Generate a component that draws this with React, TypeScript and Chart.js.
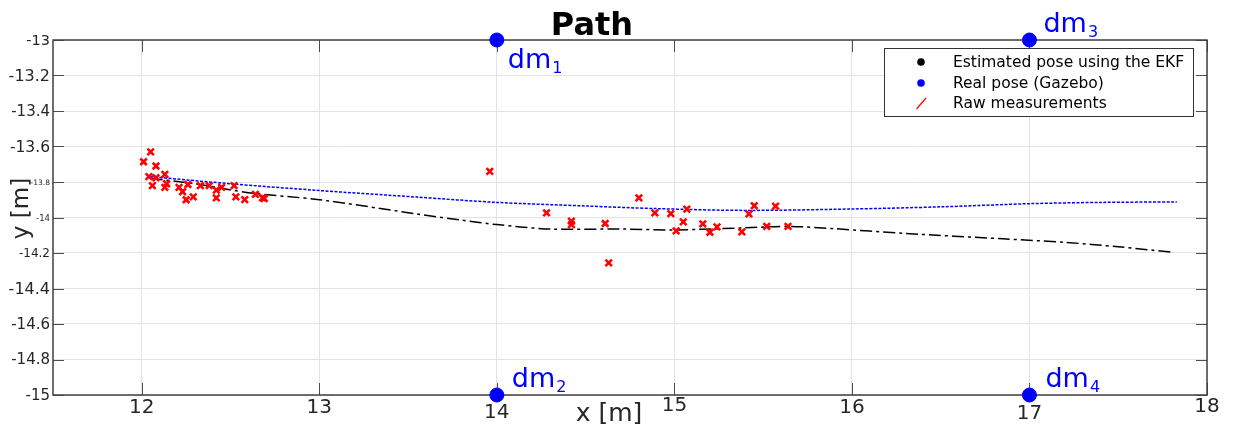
import React, { useEffect, useRef } from 'react';
import { Chart, registerables } from 'chart.js';

Chart.register(...registerables);

// ---------- text ----------
const TITLE = 'Path';
const X_LABEL = 'x [m]';
const Y_LABEL = 'y [m]';
const SERIES_LABELS = ['Estimated pose using the EKF', 'Real pose (Gazebo)', 'Raw measurements'];

// ---------- axes ----------
const X_MIN = 11.5;
const X_MAX = 18;
const X_STEP = 1;
const Y_MIN = -15;
const Y_MAX = -13;
const Y_STEP = 0.2;
const X_TICK_LABELS = ['12', '13', '14', '15', '16', '17', '18'];
const Y_TICK_LABELS = ['-15', '-14.8', '-14.6', '-14.4', '-14.2', '-14', '-13.8', '-13.6', '-13.4', '-13.2', '-13'];

// ---------- data ----------
const EKF_X = [12.05, 12.3, 12.6, 13.0, 13.55, 13.8, 14.0, 14.3, 14.7, 15.0, 15.4, 15.65, 15.9, 16.3, 16.85, 17.2, 17.5, 17.8];
const EKF_Y = [-13.78, -13.81, -13.86, -13.9, -13.98, -14.015, -14.04, -14.065, -14.065, -14.07, -14.058, -14.05, -14.063, -14.09, -14.12, -14.14, -14.165, -14.195];

const REAL_X = [12.05, 12.5, 13.0, 13.55, 14.0, 14.5, 14.9, 15.4, 16.0, 16.5, 17.0, 17.4, 17.83];
const REAL_Y = [-13.77, -13.81, -13.848, -13.885, -13.915, -13.935, -13.95, -13.96, -13.952, -13.94, -13.922, -13.915, -13.912];

const RAW_X = [12.01, 12.05, 12.08, 12.04, 12.08, 12.13, 12.06, 12.14, 12.13, 12.21, 12.23, 12.26, 12.25, 12.29, 12.33, 12.38, 12.42, 12.42, 12.45, 12.52, 12.53, 12.58, 12.64, 12.68, 12.69,
  13.96, 14.28, 14.42, 14.42, 14.61, 14.63, 14.8, 14.89, 14.98, 15.01, 15.05, 15.07, 15.16, 15.2, 15.24, 15.38, 15.42, 15.45, 15.52, 15.57, 15.64];
const RAW_Y = [-13.686, -13.63, -13.71, -13.77, -13.776, -13.757, -13.82, -13.81, -13.83, -13.83, -13.855, -13.814, -13.9, -13.884, -13.82, -13.82, -13.846, -13.889, -13.83, -13.82, -13.884, -13.899, -13.87, -13.889, -13.893,
  -13.74, -13.974, -14.02, -14.04, -14.034, -14.256, -13.889, -13.974, -13.978, -14.075, -14.025, -13.953, -14.036, -14.083, -14.053, -14.081, -13.98, -13.934, -14.05, -13.936, -14.05];

const DM_X = [14, 14, 17, 17];
const DM_Y = [-13, -15, -13, -15];
const DM_NAMES = ['dm', 'dm', 'dm', 'dm'];
const DM_SUBS = ['1', '2', '3', '4'];

// ---------- styles ----------
const FONT = '"DejaVu Sans", sans-serif';
const TEXT_COLOR = '#262626';
const BLACK = '#000000';
const BLUE = '#0000ff';
const RED = '#ff0000';
const DM_LABEL_OFFSETS = [[11, 28], [15, -8], [14, -8], [16, -8]];
const Y_TICK_SIZES: Record<string, number> = {
  '-15': 15, '-14.8': 15, '-14.6': 15, '-14.4': 16, '-14.2': 12, '-14': 8.5,
  '-13.8': 7.5, '-13.6': 15.5, '-13.4': 15, '-13.2': 16, '-13': 14.5,
};
const X_TICK_DROP: Record<string, number> = {
  '12': 12.5, '13': 12.5, '14': 18, '15': 11, '16': 12.5, '17': 18.5, '18': 12,
};

const labelFor = (labels: string[], v: number) => {
  const hit = labels.find((l) => Math.abs(parseFloat(l) - v) < 1e-6);
  return hit === undefined ? '' : hit;
};

const pts = (xs: number[], ys: number[]) => xs.map((x, i) => ({ x, y: ys[i] }));

const matlabPlugin = {
  id: 'matlabLook',
  beforeDatasetsDraw(chart: any) {
    const { ctx, chartArea: a, scales } = chart;
    const xs = scales.x;
    const ys = scales.y;
    ctx.save();
    ctx.strokeStyle = '#4d4d4d';
    ctx.lineWidth = 1;
    ctx.beginPath();
    xs.ticks.forEach((t: any) => {
      const px = Math.round(xs.getPixelForValue(t.value)) + 0.5;
      ctx.moveTo(px, a.bottom);
      ctx.lineTo(px, a.bottom - 12);
      ctx.moveTo(px, a.top);
      ctx.lineTo(px, a.top + 12);
    });
    ys.ticks.forEach((t: any) => {
      const py = Math.round(ys.getPixelForValue(t.value)) + 0.5;
      ctx.moveTo(a.left, py);
      ctx.lineTo(a.left + 11, py);
      ctx.moveTo(a.right, py);
      ctx.lineTo(a.right - 11, py);
    });
    ctx.stroke();
    ctx.strokeStyle = '#404040';
    ctx.lineWidth = 1.5;
    ctx.strokeRect(a.left, a.top, a.right - a.left, a.bottom - a.top);
    ctx.restore();
  },
  afterDraw(chart: any) {
    const { ctx, chartArea: a, scales } = chart;
    const xs = scales.x;
    const ys = scales.y;
    ctx.save();
    // tick labels
    ctx.fillStyle = TEXT_COLOR;
    ctx.textAlign = 'right';
    ctx.textBaseline = 'middle';
    ys.ticks.forEach((t: any) => {
      const lab = labelFor(Y_TICK_LABELS, t.value);
      ctx.font = `${Y_TICK_SIZES[lab] || 15}px ${FONT}`;
      ctx.fillText(lab, a.left - 3, ys.getPixelForValue(t.value) + 1);
    });
    ctx.textAlign = 'center';
    ctx.font = `20px ${FONT}`;
    xs.ticks.forEach((t: any) => {
      const lab = labelFor(X_TICK_LABELS, t.value);
      ctx.fillText(lab, xs.getPixelForValue(t.value), a.bottom + (X_TICK_DROP[lab] || 12));
    });
    // axis titles
    ctx.textBaseline = 'alphabetic';
    ctx.font = `25px ${FONT}`;
    ctx.fillText(X_LABEL, (a.left + a.right) / 2 - 21, a.bottom + 26);
    ctx.save();
    ctx.translate(28, (a.top + a.bottom) / 2 - 9);
    ctx.rotate(-Math.PI / 2);
    ctx.font = `23px ${FONT}`;
    ctx.fillText(Y_LABEL, 0, 0);
    ctx.restore();
    // title
    ctx.fillStyle = BLACK;
    ctx.font = `bold 32px ${FONT}`;
    ctx.fillText(TITLE, (a.left + a.right) / 2 - 38, a.top - 5);
    // dm labels
    ctx.fillStyle = BLUE;
    ctx.textAlign = 'left';
    DM_X.forEach((x, i) => {
      const px = xs.getPixelForValue(x) + DM_LABEL_OFFSETS[i][0];
      const py = ys.getPixelForValue(DM_Y[i]) + DM_LABEL_OFFSETS[i][1];
      ctx.font = `27px ${FONT}`;
      ctx.fillText(DM_NAMES[i], px, py);
      const w = ctx.measureText(DM_NAMES[i]).width;
      ctx.font = `16px ${FONT}`;
      ctx.fillText(DM_SUBS[i], px + w + 1, py + 5);
    });
    // legend
    const lx = a.right - 323;
    const ly = a.top + 8;
    const lw = 309;
    const lh = 68;
    ctx.fillStyle = '#ffffff';
    ctx.fillRect(lx, ly, lw, lh);
    ctx.strokeStyle = '#333333';
    ctx.lineWidth = 1;
    ctx.strokeRect(lx + 0.5, ly + 0.5, lw, lh);
    ctx.font = `15.5px ${FONT}`;
    ctx.textBaseline = 'middle';
    ctx.textAlign = 'left';
    const rows = [14, 35, 55];
    SERIES_LABELS.forEach((lab, i) => {
      const cy = ly + rows[i];
      const mx = lx + 37;
      if (i < 2) {
        ctx.fillStyle = i === 0 ? BLACK : BLUE;
        ctx.beginPath();
        ctx.arc(mx, cy, 3.8, 0, Math.PI * 2);
        ctx.fill();
      } else {
        ctx.strokeStyle = RED;
        ctx.lineWidth = 1.2;
        ctx.beginPath();
        ctx.moveTo(mx - 4.5, cy + 6);
        ctx.lineTo(mx + 5, cy - 5);
        ctx.stroke();
      }
      ctx.fillStyle = BLACK;
      ctx.fillText(lab, lx + 69, cy + 1);
    });
    ctx.restore();
  },
};

export default function App() {
  const ref = useRef<HTMLCanvasElement | null>(null);
  useEffect(() => {
    if (!ref.current) return;
    const chart = new Chart(ref.current, {
      type: 'scatter',
      data: {
        datasets: [
          {
            label: 'dm',
            data: pts(DM_X, DM_Y),
            pointStyle: 'circle',
            pointRadius: 7,
            backgroundColor: BLUE,
            borderColor: BLUE,
            borderWidth: 1,
            showLine: false,
            clip: false as any,
            order: 0,
          },
          {
            label: SERIES_LABELS[2],
            data: pts(RAW_X, RAW_Y),
            pointStyle: 'crossRot',
            pointRadius: 4.6,
            borderWidth: 2.6,
            borderColor: RED,
            backgroundColor: RED,
            showLine: false,
            order: 1,
          },
          {
            label: SERIES_LABELS[1],
            data: pts(REAL_X, REAL_Y),
            showLine: true,
            pointRadius: 0,
            borderColor: BLUE,
            borderWidth: 1.5,
            borderDash: [3, 1.5],
            tension: 0.3,
            order: 2,
          },
          {
            label: SERIES_LABELS[0],
            data: pts(EKF_X, EKF_Y),
            showLine: true,
            pointRadius: 0,
            borderColor: BLACK,
            borderWidth: 1.5,
            borderDash: [12, 4, 3, 4],
            tension: 0.3,
            order: 3,
          },
        ],
      },
      options: {
        responsive: false,
        animation: false,
        devicePixelRatio: 1,
        layout: { padding: { left: 53, top: 40, right: 26, bottom: 37 } },
        plugins: {
          legend: { display: false },
          title: { display: false },
          tooltip: { enabled: false },
        },
        scales: {
          x: {
            type: 'linear',
            min: X_MIN,
            max: X_MAX,
            ticks: { stepSize: X_STEP, includeBounds: false, display: false },
            grid: { color: '#e3e3e3', lineWidth: 1, drawTicks: false },
            border: { display: false },
            afterFit: (s: any) => { s.height = 0; },
          },
          y: {
            type: 'linear',
            min: Y_MIN,
            max: Y_MAX,
            ticks: { stepSize: Y_STEP, includeBounds: false, display: false },
            grid: { color: '#e3e3e3', lineWidth: 1, drawTicks: false },
            border: { display: false },
            afterFit: (s: any) => { s.width = 0; },
          },
        },
      } as any,
      plugins: [matlabPlugin],
    });
    return () => chart.destroy();
  }, []);
  return (
    <div style={{ position: 'fixed', left: 0, top: 0, width: 1233, height: 432, background: '#ffffff' }}>
      <canvas ref={ref} width={1233} height={432} />
    </div>
  );
}
